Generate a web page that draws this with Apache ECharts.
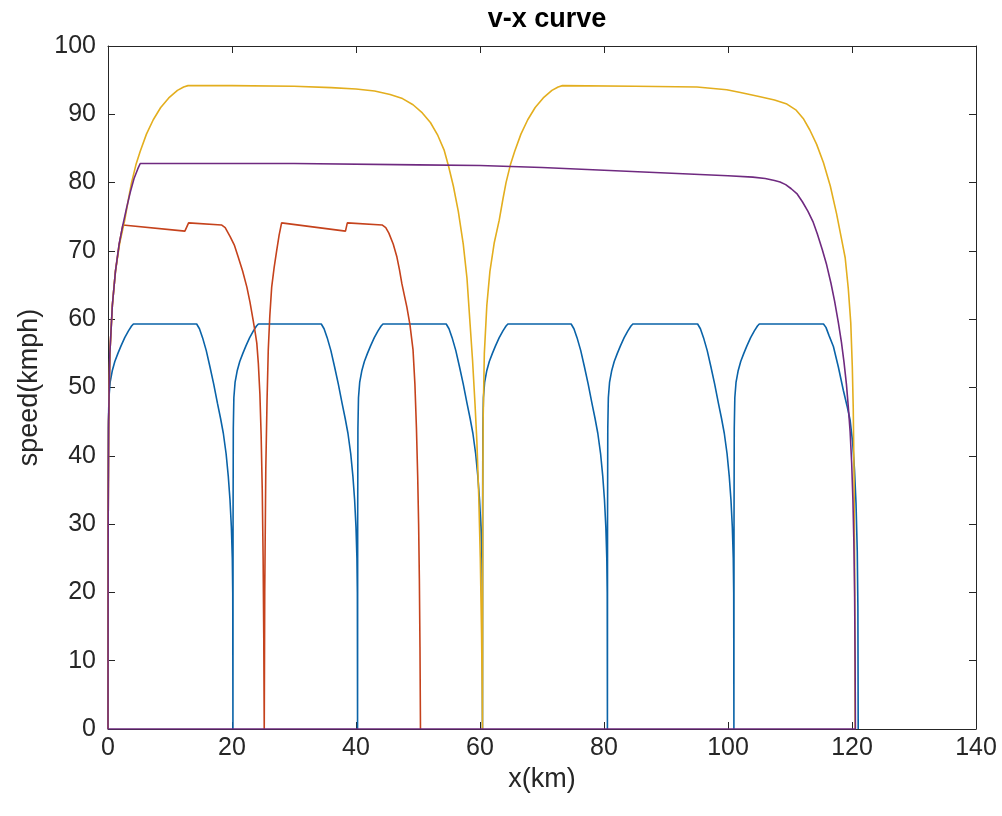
<!DOCTYPE html>
<html>
<head>
<meta charset="utf-8">
<script src="https://cdn.jsdelivr.net/npm/echarts@6/dist/echarts.min.js"></script>
<style>
html,body{margin:0;padding:0;background:#fff;}
#chart{width:1002px;height:816px;}
</style>
</head>
<body>
<div id="chart"></div>
<script>
// x in km, v in km/h
const xTicks = [0, 20, 40, 60, 80, 100, 120, 140];
const yTicks = [0, 10, 20, 30, 40, 50, 60, 70, 80, 90, 100];

const blueData = [
  [0,0],[0.02,30],[0.06,44],[0.15,48.5],[0.35,50.8],[0.7,52.5],[1.1,53.8],[1.6,55.0],[2.1,56.1],[2.7,57.3],[3.3,58.3],[3.8,59.0],[4.1,59.3],
  [14.3,59.3],[14.75,58.6],[15.25,57.3],[15.85,55.4],[16.45,53.0],[17.05,50.5],[17.65,47.7],[18.15,45.5],[18.6,43.3],[19.05,40.3],[19.4,37.0],[19.68,33.5],[19.9,29.5],[20.05,25],[20.12,20],[20.15,0],
  [20.17,30],[20.21,44],[20.3,48.5],[20.5,50.8],[20.85,52.5],[21.25,53.8],[21.75,55.0],[22.25,56.1],[22.85,57.3],[23.45,58.3],[23.95,59.0],[24.25,59.3],
  [34.4,59.3],[34.85,58.6],[35.35,57.3],[35.95,55.4],[36.55,53.0],[37.15,50.5],[37.75,47.7],[38.25,45.5],[38.7,43.3],[39.15,40.3],[39.5,37.0],[39.78,33.5],[40.0,29.5],[40.15,25],[40.22,20],[40.25,0],
  [40.27,30],[40.31,44],[40.4,48.5],[40.6,50.8],[40.95,52.5],[41.35,53.8],[41.85,55.0],[42.35,56.1],[42.95,57.3],[43.55,58.3],[44.05,59.0],[44.35,59.3],
  [54.55,59.3],[55.0,58.6],[55.5,57.3],[56.1,55.4],[56.7,53.0],[57.3,50.5],[57.9,47.7],[58.4,45.5],[58.85,43.3],[59.3,40.3],[59.65,37.0],[59.93,33.5],[60.15,29.5],[60.3,25],[60.37,20],[60.4,0],
  [60.42,30],[60.46,44],[60.55,48.5],[60.75,50.8],[61.1,52.5],[61.5,53.8],[62.0,55.0],[62.5,56.1],[63.1,57.3],[63.7,58.3],[64.2,59.0],[64.5,59.3],
  [74.7,59.3],[75.15,58.6],[75.65,57.3],[76.25,55.4],[76.85,53.0],[77.45,50.5],[78.05,47.7],[78.55,45.5],[79.0,43.3],[79.45,40.3],[79.8,37.0],[80.08,33.5],[80.3,29.5],[80.45,25],[80.52,20],[80.55,0],
  [80.57,30],[80.61,44],[80.7,48.5],[80.9,50.8],[81.25,52.5],[81.65,53.8],[82.15,55.0],[82.65,56.1],[83.25,57.3],[83.85,58.3],[84.35,59.0],[84.65,59.3],
  [95.1,59.3],[95.55,58.6],[96.05,57.3],[96.65,55.4],[97.25,53.0],[97.85,50.5],[98.45,47.7],[98.95,45.5],[99.4,43.3],[99.85,40.3],[100.2,37.0],[100.48,33.5],[100.7,29.5],[100.85,25],[100.92,20],[100.95,0],
  [100.97,30],[101.01,44],[101.1,48.5],[101.3,50.8],[101.65,52.5],[102.05,53.8],[102.55,55.0],[103.05,56.1],[103.65,57.3],[104.25,58.3],[104.75,59.0],[105.05,59.3],
  [115.4,59.3],[115.8,58.8],[116.3,57.6],[117.0,56],[117.8,53],[118.6,49.6],[119.2,47.3],[119.7,45.2],[120.1,42],[120.4,38],[120.65,33],[120.85,26],[120.95,18],[121.0,0]
];

const redData = [
  [0,0],[0.03,30],[0.1,45],[0.3,55],[0.7,62],[1.2,67],[1.8,71],[2.4,73.8],
  [12.4,72.9],[12.6,73.0],[13.0,74.1],[18.3,73.8],[18.9,73.4],[19.7,72.1],[20.4,70.8],[21.0,69.1],[21.7,67.1],[22.4,64.7],[22.9,62.5],[23.4,59.9],[23.75,58.0],[24.0,56.5],[24.25,53.5],[24.5,49],[24.7,43],[24.88,35],[25.02,25],[25.12,14],[25.2,0],
  [25.28,20],[25.45,38],[25.65,48],[25.85,55.5],[26.1,60.5],[26.4,64.7],[26.8,67.6],[27.2,70],[27.6,72.3],[28.0,74.1],
  [38.3,72.9],[38.6,74.1],[44.2,73.8],[44.8,73.4],[45.3,72.6],[46.0,71.0],[46.6,69.1],[47.0,67.3],[47.4,65.2],[47.8,63.5],[48.2,61.8],[48.7,59.2],[49.2,55.5],[49.5,50.5],[49.75,44],[49.95,37],[50.1,30],[50.22,22],[50.32,12],[50.4,0]
];

const yellowData = [
  [0,0],[0.03,30],[0.1,45],[0.3,55],[0.7,62],[1.2,67],[1.9,71.2],[2.7,74.5],[3.3,77.6],[3.8,80.0],[4.5,82.6],[5.2,84.6],[6.2,87.1],[7.3,89.2],[8.5,91.0],[9.8,92.4],[11.2,93.5],[12.2,94.0],[12.9,94.2],
  [20,94.2],[30,94.1],[36,93.9],[40,93.7],[43,93.4],[45.5,92.9],[47.5,92.3],[49.2,91.4],[50.7,90.2],[52,88.8],[53.2,86.9],[54.2,84.8],[54.9,82.5],[55.7,79.5],[56.5,75.8],[57.3,71.0],[57.9,66],[58.4,59.3],[58.8,54],[59.2,47.5],[59.5,42],[59.8,34],[60.05,25],[60.25,14],[60.35,6],[60.4,0],
  [60.43,30],[60.5,45],[60.7,55],[61.1,62],[61.6,67],[62.3,71.2],[63.1,74.5],[63.7,77.6],[64.2,80.0],[64.9,82.6],[65.6,84.6],[66.6,87.1],[67.7,89.2],[68.9,91.0],[70.2,92.4],[71.6,93.5],[72.6,94.0],[73.3,94.2],
  [85,94.1],[95,94.0],[99.8,93.6],[102,93.2],[105,92.6],[107.5,92.1],[109.5,91.5],[111,90.6],[112.2,89.3],[113.2,87.7],[114.3,85.6],[115.4,82.9],[116.5,79.5],[117.5,75.5],[118.3,71.8],[118.9,69],[119.4,64.5],[119.8,59.5],[120.05,53],[120.2,47],[120.32,38],[120.42,25],[120.48,12],[120.5,0]
];

const purpleData = [
  [0,0],[0.03,30],[0.1,45],[0.3,55],[0.7,62],[1.2,67],[1.8,71],[2.4,73.8],[3.0,76.3],[3.6,78.6],[4.2,80.6],[4.8,82.0],[5.2,82.8],
  [30,82.8],[50,82.6],[60,82.5],[70,82.2],[80,81.8],[90,81.4],[100,81.0],[104,80.8],[106,80.6],[107.5,80.3],[108.4,80.1],[109.3,79.7],[110.2,79.1],[111.1,78.4],[112,77.2],[112.9,75.8],[113.7,74.3],[114.4,72.5],[115.2,70.2],[115.9,68.0],[116.6,65.3],[117.2,62.6],[117.8,59.5],[118.3,56.6],[118.7,53.8],[119.1,50.5],[119.4,47.2],[119.7,43.5],[119.95,38.9],[120.15,33.5],[120.3,27.5],[120.42,20],[120.5,10],[120.55,0],
  [0,0]
];

const seriesNames = ['train 1', 'train 2', 'train 3', 'train 4'];
const seriesColors = ['#0a63a8', '#c5421c', '#e3ae1e', '#6f2a80'];
const seriesData = [blueData, redData, yellowData, purpleData];

const FONT = "'Liberation Sans', Arial, Helvetica, sans-serif";
const AX = '#262626';

const chart = echarts.init(document.getElementById('chart'), null, {renderer: 'canvas'});

function axisCommon(extra) {
  return Object.assign({
    type: 'value',
    axisLine: {show: true, onZero: false, lineStyle: {color: AX, width: 1}},
    axisTick: {show: true, inside: true, length: 7, lineStyle: {color: AX, width: 1}},
    splitLine: {show: false},
    axisLabel: {show: false}
  }, extra);
}

chart.setOption({
  animation: false,
  backgroundColor: '#fff',
  title: {
    text: 'v-x curve',
    left: 542,
    top: 1,
    textAlign: 'center',
    textStyle: {fontFamily: FONT, fontSize: 27, fontWeight: 'bold', color: '#000'}
  },
  grid: {left: 108, right: 26, top: 46, bottom: 87, containLabel: false},
  xAxis: [
    axisCommon({
      position: 'bottom', min: xTicks[0], max: xTicks[xTicks.length - 1], interval: 20,
      name: 'x(km)', nameLocation: 'middle', nameGap: 34,
      nameTextStyle: {fontFamily: FONT, fontSize: 27, color: AX},
      axisLabel: {show: true, margin: 7, fontFamily: FONT, fontSize: 25, color: AX}
    }),
    axisCommon({position: 'top', min: xTicks[0], max: xTicks[xTicks.length - 1], interval: 20})
  ],
  yAxis: [
    axisCommon({
      position: 'left', min: yTicks[0], max: yTicks[yTicks.length - 1], interval: 10,
      name: 'speed(kmph)', nameLocation: 'middle', nameGap: 63,
      nameTextStyle: {fontFamily: FONT, fontSize: 27, color: AX},
      axisLabel: {show: true, margin: 12, fontFamily: FONT, fontSize: 25, color: AX}
    }),
    axisCommon({position: 'right', min: yTicks[0], max: yTicks[yTicks.length - 1], interval: 10})
  ],
  series: seriesData.map((d, i) => ({
    name: seriesNames[i],
    type: 'line',
    xAxisIndex: 0,
    yAxisIndex: 0,
    data: d,
    showSymbol: false,
    symbol: 'none',
    smooth: false,
    clip: true,
    lineStyle: {color: seriesColors[i], width: 1.6},
    itemStyle: {color: seriesColors[i]},
    z: 2 + i
  }))
});
</script>
</body>
</html>
